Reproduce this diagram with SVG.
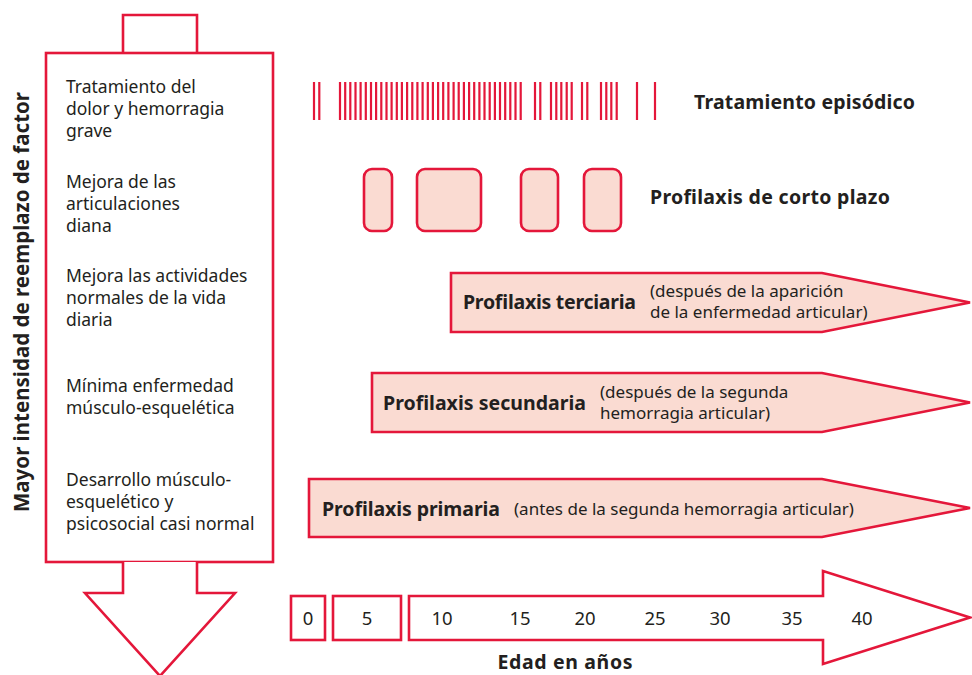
<svg xmlns="http://www.w3.org/2000/svg" width="972" height="675" viewBox="0 0 972 675">
<style>
.wf{fill:#ffffff;stroke:#e4173a;stroke-width:2.6}
.pk{fill:#fadbd2;stroke:#e4173a;stroke-width:2.6}
.t{font-family:"Noto Sans","Liberation Sans",sans-serif;fill:#231f20}
.lt{font-size:17.5px}
.b{font-weight:bold;font-size:19.5px}
.sm{font-size:17px}
.num{font-size:18.5px;text-anchor:middle}
</style>
<rect width="972" height="675" fill="#ffffff"/>
<g id="left-column">
<path class="wf" d="M123,53 V15 H197 V53"/>
<rect class="wf" x="46" y="53" width="227" height="509"/>
<path class="wf" d="M123,562 V593 H85 L160,676 L235,593 H197 V562"/>
<text class="t lt"><tspan x="66" y="93">Tratamiento del</tspan><tspan x="66" y="115">dolor y hemorragia</tspan><tspan x="66" y="137">grave</tspan></text>
<text class="t lt"><tspan x="66" y="187.5">Mejora de las</tspan><tspan x="66" y="209.5">articulaciones</tspan><tspan x="66" y="231.5">diana</tspan></text>
<text class="t lt"><tspan x="66" y="282">Mejora las actividades</tspan><tspan x="66" y="304">normales de la vida</tspan><tspan x="66" y="326">diaria</tspan></text>
<text class="t lt"><tspan x="66" y="392">Mínima enfermedad</tspan><tspan x="66" y="414">músculo-esquelética</tspan></text>
<text class="t lt"><tspan x="66" y="486">Desarrollo músculo-</tspan><tspan x="66" y="508">esquelético y</tspan><tspan x="66" y="530">psicosocial casi normal</tspan></text>
</g>
<g id="y-label">
<text class="t b" style="font-size:20.5px" text-anchor="middle" transform="translate(29,302) rotate(-90)">Mayor intensidad de reemplazo de factor</text>
</g>
<g id="episodic">
<path fill="none" stroke="#e4173a" stroke-width="2.2" d="M314,82V120M319.3,82V120M340,82V120M345.2,82V120M350.3,82V120M355.5,82V120M360.6,82V120M365.8,82V120M371,82V120M376.1,82V120M381.3,82V120M386.5,82V120M391.6,82V120M396.8,82V120M401.9,82V120M407.1,82V120M412.3,82V120M417.4,82V120M422.6,82V120M427.8,82V120M432.9,82V120M438.1,82V120M443.2,82V120M448.4,82V120M453.6,82V120M458.7,82V120M463.9,82V120M469.1,82V120M474.2,82V120M479.4,82V120M484.5,82V120M489.7,82V120M494.9,82V120M500,82V120M505.2,82V120M510.3,82V120M515.5,82V120M520.7,82V120M535,82V120M540.3,82V120M551,82V120M556.3,82V120M561.3,82V120M566.7,82V120M571.7,82V120M582,82V120M587.3,82V120M601,82V120M606.3,82V120M611.3,82V120M616.7,82V120M637,82V120M655,82V120"/>
<text class="t b" x="694" y="109" textLength="221">Tratamiento episódico</text>
</g>
<g id="short-term">
<rect class="pk" x="364" y="169" width="28" height="62" rx="8"/>
<rect class="pk" x="417" y="169" width="64" height="62" rx="8"/>
<rect class="pk" x="521" y="169" width="37" height="62" rx="8"/>
<rect class="pk" x="584" y="169" width="37" height="62" rx="8"/>
<text class="t b" x="650" y="204" textLength="240">Profilaxis de corto plazo</text>
</g>
<g id="tertiary">
<path class="pk" d="M451,273 H822 L970,302.5 L822,332 H451 Z"/>
<text class="t b" x="463" y="309" textLength="173">Profilaxis terciaria</text>
<text class="t sm"><tspan x="650" y="297">(después de la aparición</tspan><tspan x="650" y="318">de la enfermedad articular)</tspan></text>
</g>
<g id="secondary">
<path class="pk" d="M372,373 H822 L970,402.5 L822,432 H372 Z"/>
<text class="t b" x="383" y="410" textLength="203">Profilaxis secundaria</text>
<text class="t sm"><tspan x="600" y="398">(después de la segunda</tspan><tspan x="600" y="419">hemorragia articular)</tspan></text>
</g>
<g id="primary">
<path class="pk" d="M309,479 H822 L970,508 L822,537 H309 Z"/>
<text class="t b" x="322" y="516" textLength="178">Profilaxis primaria</text>
<text class="t sm" x="514" y="515">(antes de la segunda hemorragia articular)</text>
</g>
<g id="age-axis">
<rect class="wf" x="291" y="596" width="34" height="44"/>
<rect class="wf" x="333" y="596" width="68" height="44"/>
<path class="wf" d="M409,596 H823 V571 L970,617.5 L823,664 V640 H409 Z"/>
<text class="t num" x="308" y="625">0</text>
<text class="t num" x="367" y="625">5</text>
<text class="t num" x="442" y="625">10</text>
<text class="t num" x="520" y="625">15</text>
<text class="t num" x="585" y="625">20</text>
<text class="t num" x="655" y="625">25</text>
<text class="t num" x="720" y="625">30</text>
<text class="t num" x="792" y="625">35</text>
<text class="t num" x="862" y="625">40</text>
<text class="t b" text-anchor="middle" x="565" y="669" textLength="135">Edad en años</text>
</g>
</svg>
